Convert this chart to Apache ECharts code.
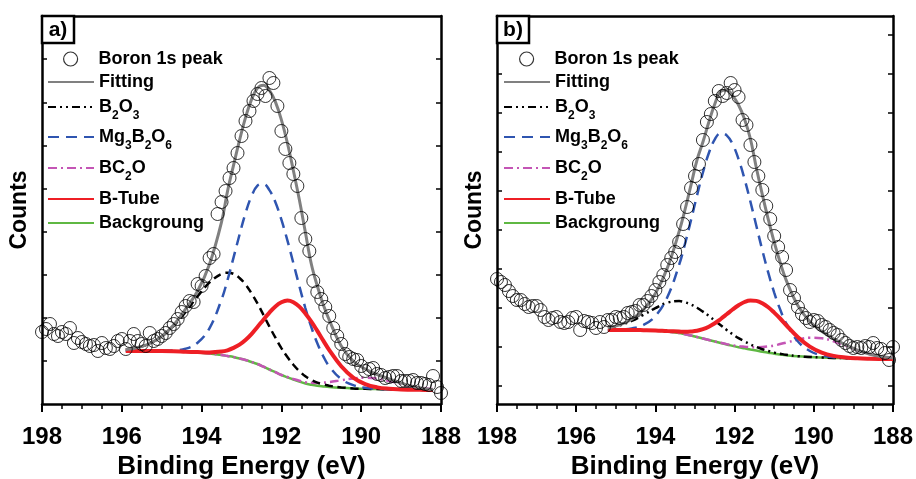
<!DOCTYPE html>
<html><head><meta charset="utf-8">
<script src="https://cdn.jsdelivr.net/npm/echarts@6/dist/echarts.min.js"></script>
<style>html,body{margin:0;padding:0;background:#fff}#c{width:916px;height:479px}</style>
</head><body><div id="c"></div>
<script>
// ---------- DATA (y in arbitrary counts) ----------
const xTicks = [198, 196, 194, 192, 190, 188];
const seriesNames = ['Boron 1s peak', 'Fitting', 'B2O3', 'Mg3B2O6', 'BC2O', 'B-Tube', 'Backgroung'];

// measured spectrum: 198.0 -> 188.0 eV, 0.1 eV steps
const scanStart = 198.0, scanStep = 0.1;
const peakA = [72,75,80,70,68,72,70,76,61,66,
  62,60,58,59,53,61,56,55,58,63,
  65,55,63,70,63,60,58,71,63,65,
  68,71,76,80,85,92,98,103,102,120,
  118,128,146,150,190,202,213,226,236,251,
  268,283,293,303,310,316,308,326,321,298,
  273,255,241,230,218,186,165,153,123,112,
  105,97,88,76,68,60,50,47,45,44,
  38,33,35,36,30,29,26,27,28,28,
  23,23,23,24,21,21,20,19,28,17,
  11];
const peakB = [125,122,119,113,108,104,104,100,97,98,
  98,94,87,84,86,87,82,81,82,86,
  87,74,83,82,81,76,82,77,84,84,
  87,86,87,91,92,93,99,99,103,108,
  114,122,129,139,146,152,162,180,197,216,
  228,240,264,282,290,303,313,308,311,321,
  314,307,284,279,259,242,228,214,198,185,
  168,157,147,134,114,106,97,90,86,82,
  84,83,79,77,74,71,69,64,61,58,
  56,57,56,58,57,61,56,55,51,44,
  57];

// fitted components, panel a
const energyA = [195.9,195.6,195.3,195.0,194.7,194.4,194.1,193.8,193.5,193.35,193.2,193.05,192.9,192.75,192.6,192.45,192.3,192.15,192.0,191.85,191.7,191.55,191.4,191.25,191.1,190.95,190.8,190.5,190.2,189.9,189.6,189.3,189.0,188.7,188.4,188.2];
const fitA   = [54.4,56.5,60.5,67.7,79,95.2,113,140,182,212.9,238.7,263.6,286.4,304.4,315.9,318.8,313.7,302.1,284.1,261,233.5,204.2,172,140,118,99.3,84,58,43,35,29.5,25,21,17.5,15.3,14.5];
const b2o3A  = [54.4,56.5,60.5,67.5,78.2,92.1,107.7,121.6,130.2,131.2,130.2,126,119.6,110.7,100.6,89.1,77.4,66.3,55.9,47,39.3,32.9,27.7,24.1,21.4,19.6,18.2,16.6,15.6,15.2,14.9,14.6,14.4,14.2,14.1,14];
const mgA    = [53,53,53,53.2,53.6,55.3,61.2,75.9,104.5,124,146.4,169.3,190.8,207.8,218.3,220,213.9,201.8,184.3,163.7,140.9,117.9,96,76.9,60.7,47.7,37.6,24.9,18.8,16.2,15.2,14.6,14.4,14.2,14.1,14];
const bc2oA  = [53,53,53,53,52.8,52.3,51.6,50.5,49,48,47,45.5,44,42,40,37.3,34.5,31.8,29,27,25,23.2,21.8,21.2,21,21.4,21.9,23.8,25.5,26.2,25.3,23,20.2,17.6,15.8,15];
const tubeA  = [53,53,53,53,52.8,52.3,51.9,51.6,52.4,53.7,56.1,59.3,64,69.9,77,84.3,91.4,97.6,101.7,103.4,101.8,97.4,90.5,82.4,73.1,63.4,53.9,37.7,26.4,19.9,16.6,15.2,14.6,14.2,14.1,14];
const bgA    = [53,53,53,53,52.8,52.3,51.6,50.5,49,48,47,45.5,44,42,40,37.3,34.5,31.8,29,26.7,24.5,22.4,20.5,19.3,18.3,17.6,17,16.2,15.6,15.2,14.9,14.6,14.4,14.2,14.1,14];

// fitted components, panel b
const energyB = [195.2,194.9,194.6,194.3,194.0,193.7,193.4,193.25,193.1,192.95,192.8,192.65,192.5,192.35,192.2,192.05,191.9,191.75,191.6,191.45,191.3,191.15,191.0,190.85,190.7,190.4,190.1,189.8,189.5,189.2,188.9,188.6,188.3,188.0];
const fitB   = [76.2,79.1,84.7,94.5,110.6,135.9,172.6,194.75,219.1,243.9,262,282,300,312.7,313.9,308.4,299,285,265,236,209.4,184.7,161.8,141.6,124.1,98.3,82.6,72.7,65.3,59.3,53.9,50,47.4,46];
const b2o3B  = [76.1,78.7,83.1,89.2,95.9,101.3,102.9,101.7,99.5,96.3,92.4,88.1,83.4,78.7,74.1,69.8,65.9,62.6,59.6,57,54.8,53,51.4,50.3,49.2,47.8,47,46.5,46.1,45.8,45.5,45.3,45.1,45];
const mgB    = [74.1,74.4,75.6,79.1,88,106.7,139.3,160.5,184.1,208.4,231.5,251,264.7,270.8,268.7,259.9,244.8,225.2,202.2,178,153.8,131.3,111.4,94.6,80.9,62.5,53,48.6,46.7,46,45.5,45.3,45.1,45];
const bc2oB  = [74,74,74,73.8,73.4,72.5,71,69.75,68.5,67,65.5,64,62.5,61.2,59.9,58.75,57.8,57.25,56.8,56.8,57,57.6,58.5,59.95,61.4,64.3,66.2,65.7,62.7,58.4,53.7,50,47.4,46];
const tubeB  = [74,74,74,73.8,73.5,72.9,72.4,72.2,72.5,73.2,74.8,77.3,80.7,85,89.7,94.5,98.7,102,103.5,103.1,100.7,96.7,91.4,85.5,79,66.8,57.4,51.4,48.1,46.5,45.7,45.3,45.1,45];
const bgB    = [74,74,74,73.8,73.4,72.5,71,69.75,68.5,67,65.5,64,62.5,61,59.5,58.15,56.8,55.65,54.5,53.4,52.3,51.3,50.3,49.55,48.8,47.7,47,46.5,46.1,45.8,45.5,45.3,45.1,45];

const yTicksA = [43.1,86.2,129.3,172.4,215.5,258.6,301.7,344.8];
const yTicksB = [18,57,96,135,174,213,252,291,330,369];

// ---------- BUILD ----------
const FONT = "'Liberation Sans', Arial, sans-serif";
const zip = (xs, ys) => xs.map((x, i) => [x, ys[i]]);
const scan = ys => ys.map((y, i) => [+(scanStart - i * scanStep).toFixed(2), y]);

const DASH_DOT_DOT = [8, 4, 2, 4, 2, 4];
const styles = {
  'Fitting':    {color: '#808080', width: 3,   type: 'solid', z: 7},
  'B2O3':       {color: '#000000', width: 2.5, type: DASH_DOT_DOT, z: 4},
  'Mg3B2O6':    {color: '#2f55b0', width: 2.5, type: [11, 7], z: 5},
  'BC2O':       {color: '#c455b5', width: 2.5, type: [9, 4, 2, 4], z: 3},
  'B-Tube':     {color: '#ee1f25', width: 4,   type: 'solid', z: 6},
  'Backgroung': {color: '#5fb843', width: 2.5, type: 'solid', z: 2}
};

function lineSeries(name, xs, ys, idx, dashOverride) {
  const s = styles[name];
  return {type: 'line', name, xAxisIndex: idx, yAxisIndex: idx, data: zip(xs, ys),
    symbol: 'none', smooth: 0.4, z: s.z, silent: true,
    lineStyle: {color: s.color, width: s.width, type: dashOverride || s.type, cap: 'butt'},
    itemStyle: {color: s.color}};
}
function panelSeries(idx, peak, E, fit, b2o3, mg, bc2o, tube, bg, blackDash) {
  return [
    {type: 'scatter', name: 'Boron 1s peak', xAxisIndex: idx, yAxisIndex: idx, data: scan(peak),
      symbol: 'circle', symbolSize: 13, symbolKeepAspect: true, z: 8, silent: true,
      itemStyle: {color: 'rgba(255,255,255,0)', borderColor: '#000', borderWidth: 1}},
    lineSeries('Fitting', E, fit, idx),
    lineSeries('B2O3', E, b2o3, idx, blackDash),
    lineSeries('Mg3B2O6', E, mg, idx),
    lineSeries('BC2O', E, bc2o, idx),
    lineSeries('B-Tube', E, tube, idx),
    lineSeries('Backgroung', E, bg, idx)
  ];
}

const grids = [
  {left: 42, top: 16, width: 399, height: 388, containLabel: false, outerBoundsMode: 'none'},
  {left: 497, top: 16, width: 396, height: 388, containLabel: false, outerBoundsMode: 'none'}
];
const xAxes = [], yAxes = [];
[0, 1].forEach(g => {
  xAxes.push({type: 'value', gridIndex: g, min: 188, max: 198, interval: 2, inverse: true,
    position: 'bottom',
    name: 'Binding Energy (eV)', nameLocation: 'middle', nameGap: 50,
    nameTextStyle: {fontFamily: FONT, fontWeight: 'bold', fontSize: 26, color: '#000'},
    axisLine: {show: true, lineStyle: {color: '#000', width: 2.5}},
    axisTick: {show: true, inside: false, length: 8, lineStyle: {color: '#000', width: 2}},
    minorTick: {show: true, splitNumber: 4, length: 5, lineStyle: {color: '#000', width: 1.5}},
    axisLabel: {show: true, margin: 21, fontFamily: FONT, fontWeight: 'bold', fontSize: 24, color: '#000',
      customValues: xTicks},
    splitLine: {show: false}, minorSplitLine: {show: false}});
  xAxes.push({type: 'value', gridIndex: g, min: 188, max: 198, inverse: true, position: 'top',
    axisLine: {show: true, onZero: false, lineStyle: {color: '#000', width: 2.5}},
    axisTick: {show: false}, axisLabel: {show: false}, splitLine: {show: false}});
});
[0, 1].forEach(g => {
  const ticks = g === 0 ? yTicksA : yTicksB;
  yAxes.push({type: 'value', gridIndex: g, min: 0, max: 388, position: 'left',
    name: 'Counts', nameLocation: 'middle', nameGap: 11,
    nameTextStyle: {fontFamily: FONT, fontWeight: 'bold', fontSize: 23, color: '#000'},
    axisLine: {show: true, onZero: false, lineStyle: {color: '#000', width: 2.5}},
    axisTick: {show: true, inside: true, length: 5, customValues: ticks, lineStyle: {color: '#000', width: 1.5}},
    axisLabel: {show: false}, splitLine: {show: false}});
  yAxes.push({type: 'value', gridIndex: g, min: 0, max: 388, position: 'right',
    axisLine: {show: true, onZero: false, lineStyle: {color: '#000', width: 2.5}},
    axisTick: {show: true, inside: true, length: 5, customValues: ticks, lineStyle: {color: '#000', width: 1.5}},
    axisLabel: {show: false}, splitLine: {show: false}});
});
// axis index mapping: x: [a-bottom, a-top, b-bottom, b-top], y: [a-left, a-right, b-left, b-right]
const seriesA = panelSeries(0, peakA, energyA, fitA, b2o3A, mgA, bc2oA, tubeA, bgA, [8, 5]);
const seriesB = panelSeries(2, peakB, energyB, fitB, b2o3B, mgB, bc2oB, tubeB, bgB);

const richLabels = {
  'B2O3': '{m|B}{s|2}{m|O}{s|3}',
  'Mg3B2O6': '{m|Mg}{s|3}{m|B}{s|2}{m|O}{s|6}',
  'BC2O': '{m|BC}{s|2}{m|O}'
};
const legendRowY = [59, 82, 107, 137, 168, 199, 223];
const legendLeft = [47, 503];
const legends = [];
legendLeft.forEach(lx => {
  seriesNames.forEach((name, i) => {
    const rich = !!richLabels[name];
    const isScatter = name === 'Boron 1s peak';
    const lg = {show: true, data: [name], left: isScatter ? lx + 16 : lx, top: legendRowY[i] - (rich ? 15 : 9), padding: 0,
      itemWidth: isScatter ? 14 : 46, itemHeight: 14, itemGap: 0, selectedMode: false,
      textStyle: {fontFamily: FONT, fontWeight: 'bold', fontSize: 18, lineHeight: 18, color: '#000',
        padding: isScatter ? [0, 0, 0, 16] : 0,
        rich: {
          m: {fontFamily: FONT, fontWeight: 'bold', fontSize: 18, lineHeight: 18, color: '#000', padding: [6, 0, 6, 0]},
          s: {fontFamily: FONT, fontWeight: 'bold', fontSize: 12, lineHeight: 12, color: '#000', padding: [18, 0, 0, 0]}
        }},
      formatter: n => richLabels[n] || n};
    if (isScatter) {
      lg.itemStyle = {color: 'rgba(255,255,255,0)', borderColor: '#000', borderWidth: 1.2};
    } else {
      lg.itemStyle = {color: 'rgba(0,0,0,0)', borderColor: 'rgba(0,0,0,0)', borderWidth: 0, opacity: 0};
      if (name === 'B2O3') lg.lineStyle = {type: DASH_DOT_DOT};
    }
    legends.push(lg);
  });
});

const chart = echarts.init(document.getElementById('c'), null, {renderer: 'canvas'});
chart.setOption({
  animation: false,
  backgroundColor: '#fff',
  grid: grids,
  xAxis: xAxes,
  yAxis: yAxes,
  legend: legends,
  series: seriesA.concat(seriesB.map(s => Object.assign({}, s, {xAxisIndex: 2, yAxisIndex: 2}))),
  graphic: [
    {type: 'rect', shape: {x: 42, y: 16, width: 32, height: 27}, style: {fill: '#fff', stroke: '#000', lineWidth: 2.5}, z: 100},
    {type: 'text', x: 58, y: 30, style: {text: 'a)', fontFamily: FONT, fontWeight: 'bold', fontSize: 21, fill: '#000', align: 'center', verticalAlign: 'middle'}, z: 101},
    {type: 'rect', shape: {x: 497, y: 16, width: 32, height: 27}, style: {fill: '#fff', stroke: '#000', lineWidth: 2.5}, z: 100},
    {type: 'text', x: 513, y: 30, style: {text: 'b)', fontFamily: FONT, fontWeight: 'bold', fontSize: 21, fill: '#000', align: 'center', verticalAlign: 'middle'}, z: 101}
  ]
});
</script></body></html>
